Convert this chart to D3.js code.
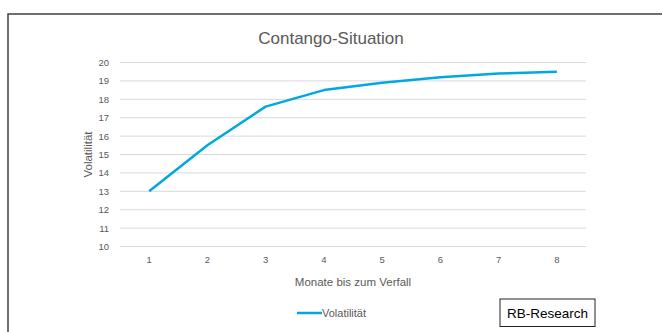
<!DOCTYPE html>
<html>
<head>
<meta charset="utf-8">
<script src="https://cdn.jsdelivr.net/npm/d3@7"></script>
<style>
  html, body { margin: 0; padding: 0; background: #fff; }
  svg text { font-family: "Liberation Sans", Arial, sans-serif; }
</style>
</head>
<body>
<svg id="chart" width="662" height="332"></svg>
<script>
// Term structure of volatility (contango)
const months = [1, 2, 3, 4, 5, 6, 7, 8];
const volatility = [13, 15.5, 17.6, 18.5, 18.9, 19.2, 19.4, 19.5];
const yTicks = [10, 11, 12, 13, 14, 15, 16, 17, 18, 19, 20];

const svg = d3.select("#chart");
const plot = { left: 120, right: 586, top: 62.5, bottom: 246.5 };

// Outer frame (only left and top edges fall inside the view)
svg.append("rect")
  .attr("x", 8).attr("y", 14)
  .attr("width", 700).attr("height", 400)
  .attr("fill", "none")
  .attr("stroke", "#404040")
  .attr("stroke-width", 1.5);

const x = d3.scaleBand().domain(months).range([plot.left, plot.right]);
const y = d3.scaleLinear().domain([10, 20]).range([plot.bottom, plot.top]);

// Horizontal gridlines
svg.append("g")
  .selectAll("line")
  .data(yTicks)
  .join("line")
  .attr("x1", plot.left).attr("x2", plot.right)
  .attr("y1", d => y(d)).attr("y2", d => y(d))
  .attr("stroke", "#d9d9d9")
  .attr("stroke-width", 1);

// Y axis labels
const yAxis = svg.append("g")
  .attr("transform", `translate(${plot.left},0)`)
  .call(d3.axisLeft(y).tickValues(yTicks).tickSize(0).tickPadding(11));
yAxis.select(".domain").remove();
yAxis.selectAll("text")
  .attr("fill", "#595959")
  .style("font-size", "9.5px");

// X axis labels
const xAxis = svg.append("g")
  .attr("transform", `translate(0,${plot.bottom})`)
  .call(d3.axisBottom(x).tickSize(0).tickPadding(10));
xAxis.select(".domain").remove();
xAxis.selectAll("text")
  .attr("fill", "#595959")
  .style("font-size", "9.5px");

// Line series
const line = d3.line()
  .x((d, i) => x(months[i]) + x.bandwidth() / 2)
  .y(d => y(d));

svg.append("path")
  .datum(volatility)
  .attr("d", line)
  .attr("fill", "none")
  .attr("stroke", "#00a8e2")
  .attr("stroke-width", 2.5)
  .attr("stroke-linejoin", "round");

// Title
svg.append("text")
  .attr("x", 331).attr("y", 44)
  .attr("text-anchor", "middle")
  .attr("fill", "#595959")
  .style("font-size", "17px")
  .text("Contango-Situation");

// Axis titles
svg.append("text")
  .attr("transform", `translate(92,${(plot.top + plot.bottom) / 2}) rotate(-90)`)
  .attr("text-anchor", "middle")
  .attr("fill", "#595959")
  .style("font-size", "11.5px")
  .text("Volatilität");

svg.append("text")
  .attr("x", (plot.left + plot.right) / 2).attr("y", 286)
  .attr("text-anchor", "middle")
  .attr("fill", "#595959")
  .style("font-size", "11.5px")
  .text("Monate bis zum Verfall");

// Legend
svg.append("line")
  .attr("x1", 297).attr("x2", 322)
  .attr("y1", 313).attr("y2", 313)
  .attr("stroke", "#00a8e2")
  .attr("stroke-width", 2.5);
svg.append("text")
  .attr("x", 322).attr("y", 317)
  .attr("fill", "#595959")
  .style("font-size", "11px")
  .text("Volatilität");

// Source box
svg.append("rect")
  .attr("x", 500).attr("y", 299)
  .attr("width", 95).attr("height", 27.5)
  .attr("fill", "#fff")
  .attr("stroke", "#222")
  .attr("stroke-width", 1);
svg.append("text")
  .attr("x", 547.5).attr("y", 318)
  .attr("text-anchor", "middle")
  .attr("fill", "#000")
  .style("font-size", "13.5px")
  .text("RB-Research");
</script>
</body>
</html>
